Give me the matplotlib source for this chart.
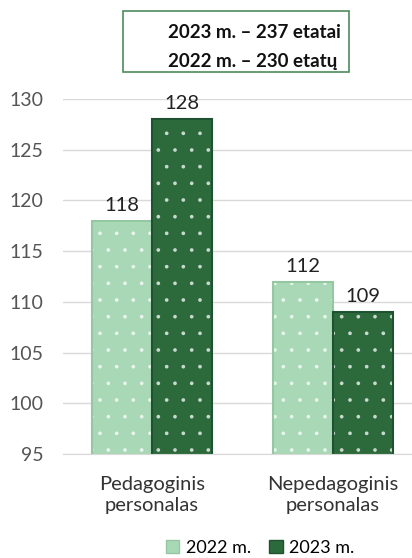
import matplotlib
matplotlib.use("Agg")
import matplotlib.pyplot as plt
from matplotlib.patches import Rectangle, Patch
import numpy as np

categories = ["Pedagoginis\npersonalas", "Nepedagoginis\npersonalas"]
series_names = ["2022 m.", "2023 m."]
values_2022 = [118, 112]
values_2023 = [128, 109]
yticks = [95, 100, 105, 110, 115, 120, 125, 130]
box_lines = ["2023 m. – 237 etatai", "2022 m. – 230 etatų"]

plt.rcParams['font.family'] = ['Lato', 'DejaVu Sans']
plt.rcParams['hatch.linewidth'] = 0.2

fig = plt.figure(figsize=(4.12, 5.58), dpi=100)
ax = fig.add_axes([63/412, 1-454/558, (412-63)/412, 355/558])

light = '#A8D8B5'
light_edge = '#94C7A2'
dark = '#2C6A3C'
dark_edge = '#1F5230'
w = 0.33
x = np.arange(len(categories))
b1 = ax.bar(x - w/2, values_2022, w, bottom=0, color=light, edgecolor=light_edge,
            linewidth=1.5, hatch='.', zorder=3)
b2 = ax.bar(x + w/2, values_2023, w, bottom=0, color=dark, edgecolor=dark_edge,
            linewidth=1.5, hatch='.', zorder=3)
for bars in (b1, b2):
    for b in bars:
        b._hatch_color = (1, 1, 1, 0.75)

for bars, vals in ((b1, values_2022), (b2, values_2023)):
    for b, v in zip(bars, vals):
        ax.annotate(str(v), (b.get_x() + b.get_width()/2, v), xytext=(0, 5),
                    textcoords='offset points', ha='center', va='bottom',
                    fontsize=14.5, color='#222222')

ax.set_ylim(95, 130)
ax.set_xlim(-0.49, 1.436)
ax.set_yticks(yticks)
ax.set_yticklabels([str(t) for t in yticks], fontsize=14, color='#555555')
ax.set_xticks(x)
ax.set_xticklabels(categories, fontsize=14.5, color='#333333', linespacing=1.25)
ax.tick_params(axis='y', length=0, pad=14)
ax.tick_params(axis='x', length=0, pad=16)
ax.grid(axis='y', color='#D9D9D9', linewidth=1, zorder=0)
for s in ('top', 'right', 'left'):
    ax.spines[s].set_visible(False)
ax.spines['bottom'].set_color('#D9D9D9')
ax.spines['bottom'].set_zorder(4)

# Title box
fig.patches.append(Rectangle((123/412, 1-72/558), (349-123)/412, (72-11)/558,
                             transform=fig.transFigure, fill=False,
                             edgecolor='#4E8A5C', linewidth=1.2))
fig.text(168/412, 1-32/558, box_lines[0], ha='left', va='center',
         fontsize=13.5, fontweight='bold', color='#111111')
fig.text(168/412, 1-62/558, box_lines[1], ha='left', va='center',
         fontsize=13.5, fontweight='bold', color='#111111')

handles = [Patch(facecolor=light, edgecolor=light_edge),
           Patch(facecolor=dark, edgecolor=dark_edge)]
fig.legend(handles, series_names, loc='center', bbox_to_anchor=(260/412, 1-548/558),
           ncol=2, frameon=False, fontsize=13, handlelength=0.75, handleheight=0.75,
           handletextpad=0.35, columnspacing=1.0, borderpad=0)

fig.savefig('out.png', dpi=100)
